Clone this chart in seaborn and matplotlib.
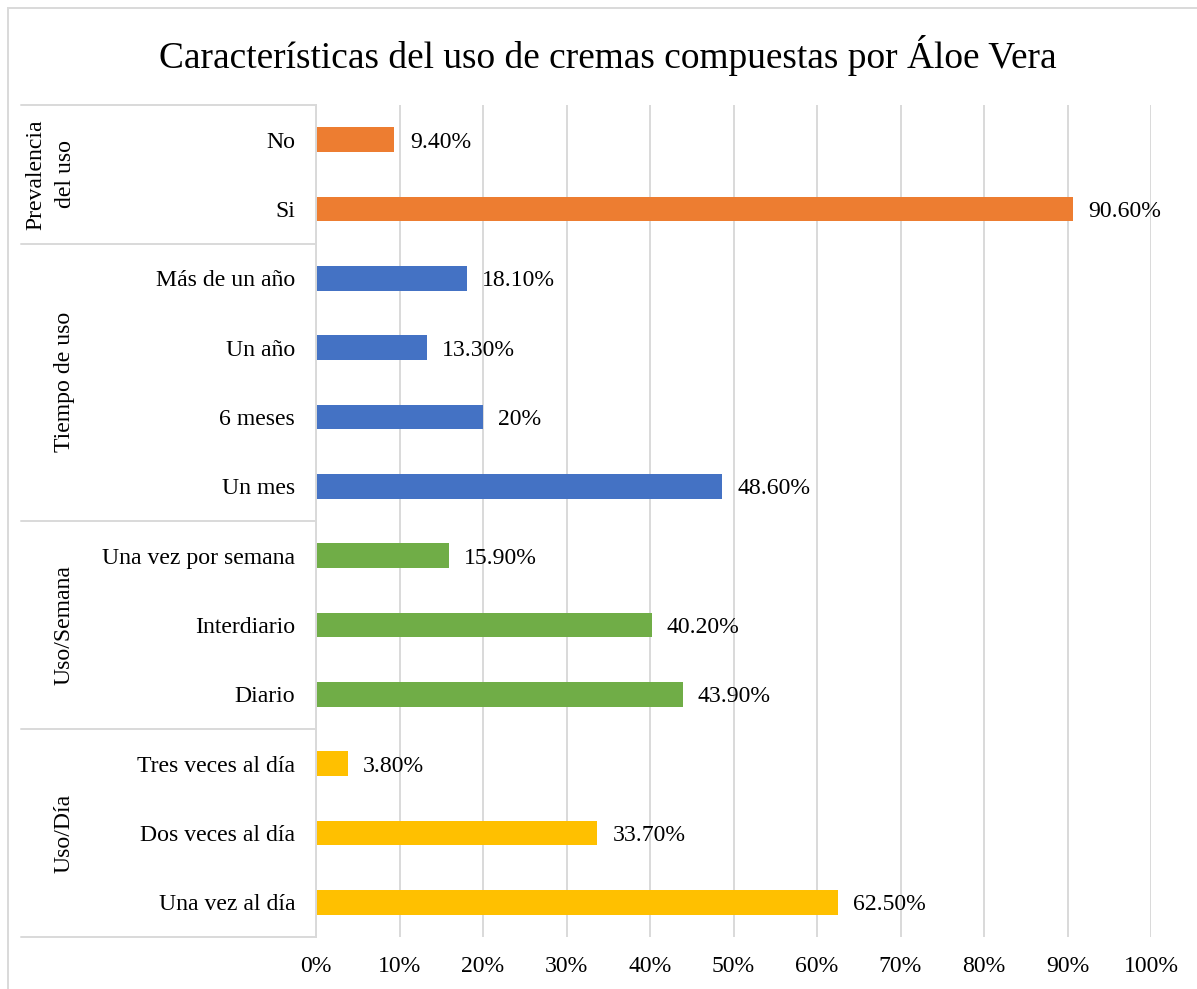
import pandas as pd
import matplotlib
matplotlib.use('Agg')
import matplotlib.pyplot as plt
import matplotlib.transforms as mtransforms
from matplotlib.patches import Rectangle
import seaborn as sns

# Data
categories = ['No', 'Si',
              'Más de un año', 'Un año', '6 meses', 'Un mes',
              'Una vez por semana', 'Interdiario', 'Diario',
              'Tres veces al día', 'Dos veces al día', 'Una vez al día']
values = [9.4, 90.6,
          18.1, 13.3, 20.0, 48.6,
          15.9, 40.2, 43.9,
          3.8, 33.7, 62.5]
groups = ['Prevalencia\ndel uso'] * 2 + ['Tiempo de uso'] * 4 + ['Uso/Semana'] * 3 + ['Uso/Día'] * 3
group_colors = ['#ED7D31', '#4472C4', '#70AD47', '#FFC000']
x_ticks = list(range(0, 101, 10))
title = 'Características del uso de cremas compuestas por Áloe Vera'

df = pd.DataFrame({'cat': categories, 'value': values, 'group': groups})
group_order = list(dict.fromkeys(groups))

sns.set_style('white')
plt.rcParams['font.family'] = ['Liberation Serif', 'DejaVu Serif']
plt.rcParams['text.color'] = 'black'
plt.rcParams['xtick.color'] = 'black'
plt.rcParams['ytick.color'] = 'black'
grid_col = '#D9D9D9'
fsize = 17.1

W, H = 1197, 989
fig = plt.figure(figsize=(W / 100, H / 100), dpi=100)
ax = fig.add_axes([316 / W, 1 - 937 / H, (1151 - 316) / W, (937 - 105) / H])

sns.barplot(data=df, y='cat', x='value', hue='group', hue_order=group_order,
            palette=group_colors, dodge=False, width=0.36, orient='h',
            legend=False, ax=ax, saturation=1, linewidth=0)

def fmt(v):
    return f'{int(v)}%' if float(v).is_integer() else f'{v:.2f}%'

for cont in ax.containers:
    labs = [fmt(b.get_width()) for b in cont]
    txts = ax.bar_label(cont, labels=labs, padding=11, fontsize=fsize, color='black')
    for t in txts:
        t.set_va('center_baseline')

ax.set_xlim(0, 100)
ax.set_ylim(len(categories) - 0.5, -0.5)
ax.set_xticks(x_ticks)
ax.set_xticklabels([f'{t}%' for t in x_ticks], fontsize=fsize)
ax.tick_params(axis='x', length=0, pad=14)
ax.tick_params(axis='y', length=0, pad=15, labelsize=fsize)
ax.set_xlabel('')
ax.set_ylabel('')
ax.xaxis.grid(True, color=grid_col, lw=1.4)
ax.set_axisbelow(True)
for s in ['top', 'right', 'bottom']:
    ax.spines[s].set_visible(False)
ax.spines['left'].set_color(grid_col)
ax.spines['left'].set_linewidth(1.4)

# Group dividers and labels in the category area
trans = mtransforms.blended_transform_factory(ax.transAxes, ax.transData)
left_x = (21 - 316) / (1151 - 316)
start = 0
bounds = [-0.5]
for g in group_order:
    n = groups.count(g)
    mid = start + (n - 1) / 2
    xlab = (51 - 316) / (1151 - 316) if '\n' in g else (64 - 316) / (1151 - 316)
    ax.text(xlab, mid, g, rotation=90, ha='center', va='center',
            fontsize=fsize, transform=trans, linespacing=1.55)
    start += n
    bounds.append(start - 0.5)
for b in bounds:
    ax.plot([left_x, 0], [b, b], color=grid_col, lw=1.4, transform=trans, clip_on=False)

# Chart border and title
fig.patches.append(Rectangle((8 / W, -0.1), 1.2, 1 - 8 / H + 0.1, transform=fig.transFigure,
                             fill=False, edgecolor=grid_col, lw=1.4))
fig.text(608 / W, 1 - 55 / H, title, ha='center', va='center', fontsize=26.9)

plt.savefig('out.png', dpi=100)
